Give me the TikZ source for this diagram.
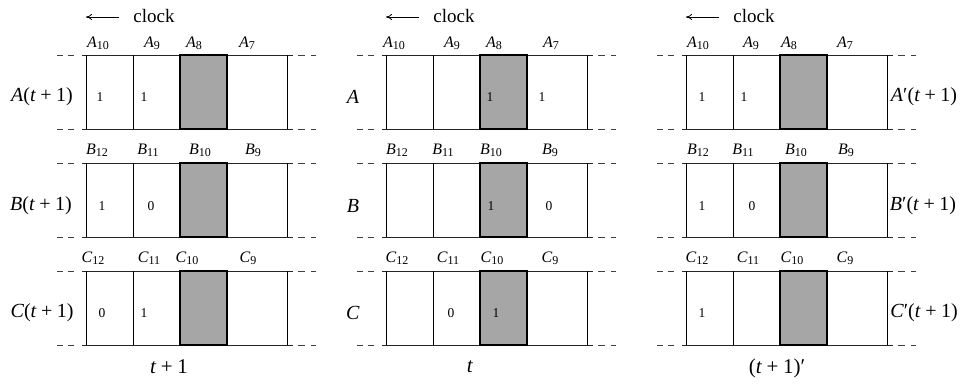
\documentclass[tikz,border=0pt]{standalone}
\usepackage{fontspec}
\setmainfont{Liberation Serif}
\usetikzlibrary{arrows.meta}
\definecolor{cellgray}{HTML}{A6A6A6}
\newcommand\sbs[1]{\raisebox{-0.3ex}{\fontsize{12}{13}\selectfont #1}}
\newcommand\IT[1]{\textit{#1}}
\begin{document}
\begin{tikzpicture}[x=1pt,y=-1pt,
  rowlbl/.style={font=\fontsize{20}{22}\selectfont, inner sep=0pt},
  botlbl/.style={font=\fontsize{21}{24}\selectfont, inner sep=0pt},
  clocklbl/.style={font=\fontsize{19}{22}\selectfont, inner sep=0pt},
  collbl/.style={font=\fontsize{16}{18}\selectfont, inner sep=0pt},
  val/.style={font=\fontsize{13.5}{15}\selectfont, inner sep=0pt},
  frameline/.style={line width=0.9pt, black!85},
  celledge/.style={line width=0.9pt, black},
  grayedge/.style={line width=1.3pt, black},
  dashseg/.style={line width=0.9pt, black!75},
  clockarrow/.style={line width=0.8pt, -{To[length=6pt,width=6pt]}}
]
\useasboundingbox (0,0) rectangle (968,383);
\fill[white] (0,0) rectangle (968,383);

% ---------- frames of the three panels ----------
\foreach \o in {0,300,600}{
  \foreach \t/\b in {55/129,163/237,271/345}{
    \fill[cellgray] ({\o+180},\t) rectangle ({\o+227},\b);
    \foreach \y in {\t,\b}{
      \draw[frameline] ({\o+82},\y) -- ({\o+293},\y);
      \draw[dashseg] ({\o+57},\y) -- ({\o+63},\y);
      \draw[dashseg] ({\o+68},\y) -- ({\o+74},\y);
      \draw[dashseg] ({\o+298},\y) -- ({\o+305},\y);
      \draw[dashseg] ({\o+311},\y) -- ({\o+316},\y);
    }
    \foreach \x in {86,133,287}
      \draw[celledge] ({\o+\x},\t) -- ({\o+\x},\b);
    \draw[grayedge] ({\o+180},\t) rectangle ({\o+227},\b);
  }
}

% ---------- clock arrows ----------
\foreach \o/\n in {0/1,300/2,600/3}{
  \node[clocklbl] (clock\n) at ({\o+154},16) {clock};
  \coordinate (ca\n) at ({\o+119},17);
  \coordinate (cb\n) at ({\o+86},17);
  \draw[clockarrow] (ca\n) -- (cb\n);
}

% ---------- column labels ----------
% panel 1
\node[collbl] (p1a10) at (98,43)  {\IT{A}\sbs{10}};
\node[collbl] (p1a9)  at (152,43) {\IT{A}\sbs{9}};
\node[collbl] (p1a8)  at (194,43) {\IT{A}\sbs{8}};
\node[collbl] (p1a7)  at (247,43) {\IT{A}\sbs{7}};
\node[collbl] (p1b12) at (97,150)  {\IT{B}\sbs{12}};
\node[collbl] (p1b11) at (148,150) {\IT{B}\sbs{11}};
\node[collbl] (p1b10) at (200,150) {\IT{B}\sbs{10}};
\node[collbl] (p1b9)  at (253,150) {\IT{B}\sbs{9}};
\node[collbl] (p1c12) at (93,258)  {\IT{C}\sbs{12}};
\node[collbl] (p1c11) at (149,258) {\IT{C}\sbs{11}};
\node[collbl] (p1c10) at (187,258) {\IT{C}\sbs{10}};
\node[collbl] (p1c9)  at (248,258) {\IT{C}\sbs{9}};
% panel 2
\node[collbl] (p2a10) at (394,43) {\IT{A}\sbs{10}};
\node[collbl] (p2a9)  at (452,43) {\IT{A}\sbs{9}};
\node[collbl] (p2a8)  at (494,43) {\IT{A}\sbs{8}};
\node[collbl] (p2a7)  at (551,43) {\IT{A}\sbs{7}};
\node[collbl] (p2b12) at (397,150) {\IT{B}\sbs{12}};
\node[collbl] (p2b11) at (443,150) {\IT{B}\sbs{11}};
\node[collbl] (p2b10) at (491,150) {\IT{B}\sbs{10}};
\node[collbl] (p2b9)  at (550,150) {\IT{B}\sbs{9}};
\node[collbl] (p2c12) at (397,258) {\IT{C}\sbs{12}};
\node[collbl] (p2c11) at (448,258) {\IT{C}\sbs{11}};
\node[collbl] (p2c10) at (492,258) {\IT{C}\sbs{10}};
\node[collbl] (p2c9)  at (550,258) {\IT{C}\sbs{9}};
% panel 3
\node[collbl] (p3a10) at (698,43) {\IT{A}\sbs{10}};
\node[collbl] (p3a9)  at (751,43) {\IT{A}\sbs{9}};
\node[collbl] (p3a8)  at (789,43) {\IT{A}\sbs{8}};
\node[collbl] (p3a7)  at (845,43) {\IT{A}\sbs{7}};
\node[collbl] (p3b12) at (698,150) {\IT{B}\sbs{12}};
\node[collbl] (p3b11) at (743,150) {\IT{B}\sbs{11}};
\node[collbl] (p3b10) at (796,150) {\IT{B}\sbs{10}};
\node[collbl] (p3b9)  at (846,150) {\IT{B}\sbs{9}};
\node[collbl] (p3c12) at (697,258) {\IT{C}\sbs{12}};
\node[collbl] (p3c11) at (748,258) {\IT{C}\sbs{11}};
\node[collbl] (p3c10) at (792,258) {\IT{C}\sbs{10}};
\node[collbl] (p3c9)  at (845,258) {\IT{C}\sbs{9}};

% ---------- cell values ----------
\node[val] (v1a1) at (100,97) {1};
\node[val] (v1a2) at (144,97) {1};
\node[val] (v1b1) at (102,206) {1};
\node[val] (v1b2) at (151,206) {0};
\node[val] (v1c1) at (102,313) {0};
\node[val] (v1c2) at (144,313) {1};
\node[val] (v2a1) at (490,97) {1};
\node[val] (v2a2) at (542,97) {1};
\node[val] (v2b1) at (491,206) {1};
\node[val] (v2b2) at (549,206) {0};
\node[val] (v2c1) at (451,313) {0};
\node[val] (v2c2) at (496,313) {1};
\node[val] (v3a1) at (702,97) {1};
\node[val] (v3a2) at (744,97) {1};
\node[val] (v3b1) at (702,206) {1};
\node[val] (v3b2) at (752,206) {0};
\node[val] (v3c1) at (702,313) {1};

% ---------- row labels ----------
\node[rowlbl] (r1a) at (42,97)  {\IT{A}(\IT{t}\:+\:1)};
\node[rowlbl] (r1b) at (41,206) {\IT{B}(\IT{t}\:+\:1)};
\node[rowlbl] (r1c) at (42,313) {\IT{C}(\IT{t}\:+\:1)};
\node[rowlbl] (r2a) at (353,97)  {\IT{A}};
\node[rowlbl] (r2b) at (353,206) {\IT{B}};
\node[rowlbl] (r2c) at (353,313) {\IT{C}};
\node[rowlbl] (r3a) at (924,97)  {\IT{A}′(\IT{t}\:+\:1)};
\node[rowlbl] (r3b) at (923,206) {\IT{B}′(\IT{t}\:+\:1)};
\node[rowlbl] (r3c) at (924,313) {\IT{C}′(\IT{t}\:+\:1)};

% ---------- bottom labels ----------
\node[botlbl] (t1) at (169,367) {\IT{t}\:+\:1};
\node[botlbl] (t2) at (470,367) {\IT{t}};
\node[botlbl] (t3) at (777,368) {(\IT{t}\:+\:1)′};
\end{tikzpicture}
\end{document}
